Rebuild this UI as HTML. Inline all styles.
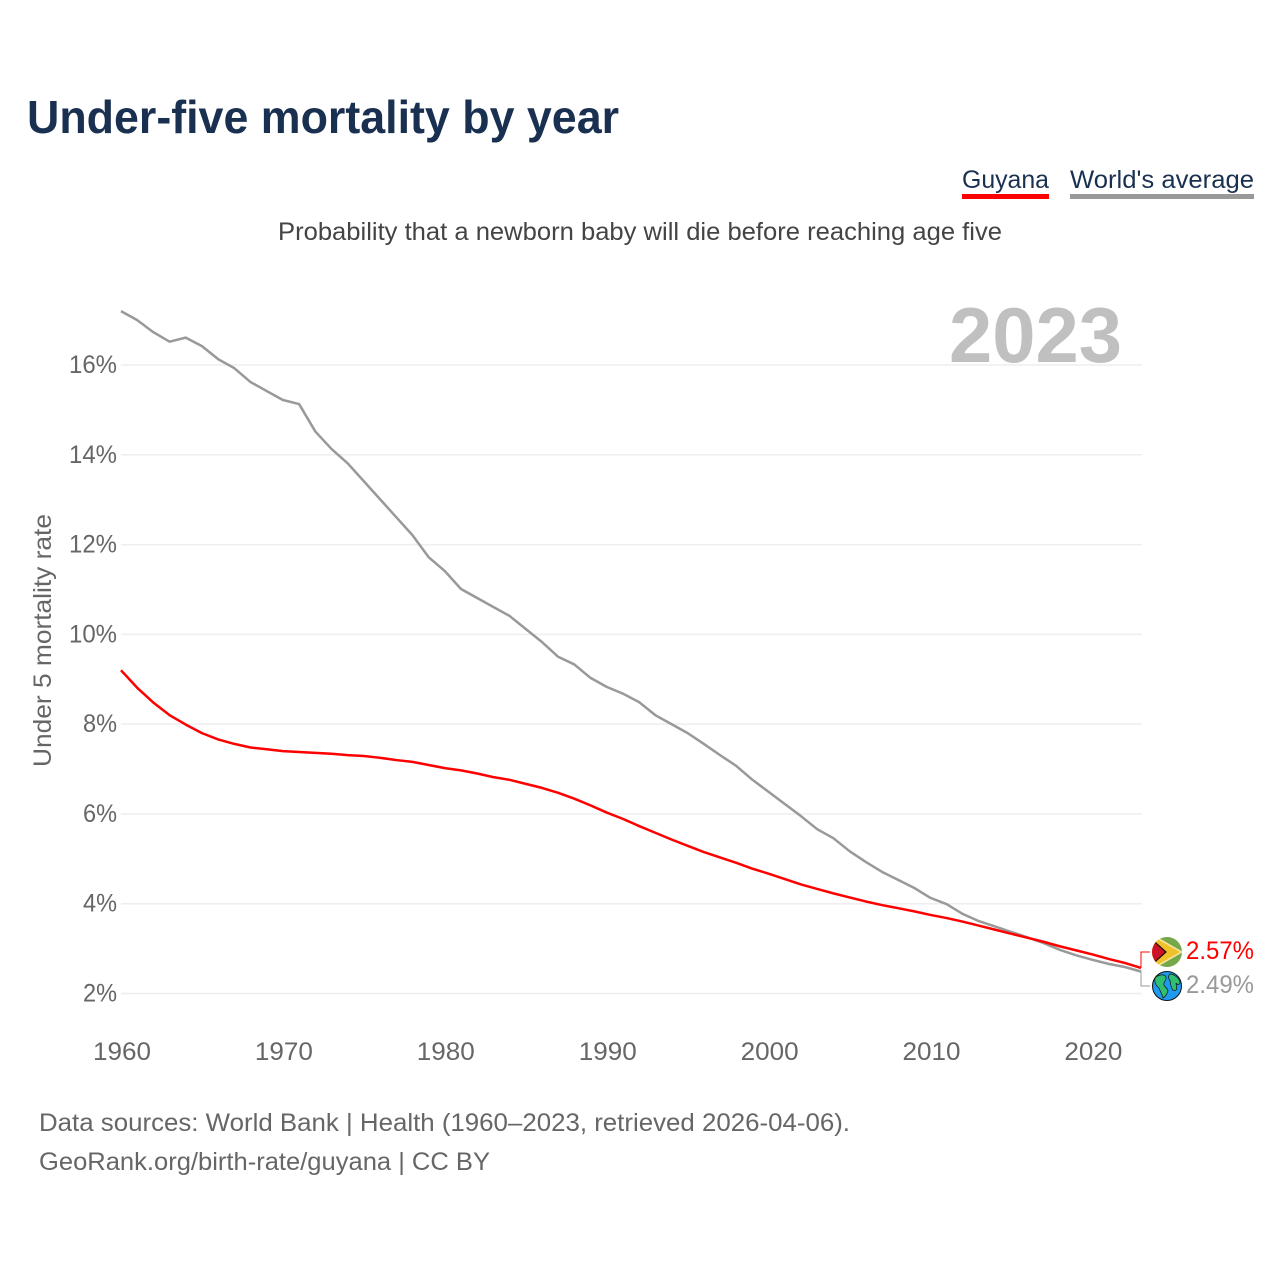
<!DOCTYPE html>
<html lang="en">
<head>
<meta charset="utf-8">
<title>Under-five mortality by year</title>
<style>
  html, body { margin: 0; padding: 0; background: #fff; }
  svg { display: block; font-family: "Liberation Sans", sans-serif; }
</style>
</head>
<body>
<svg id="chart" xmlns="http://www.w3.org/2000/svg" width="1280" height="1280" viewBox="0 0 1280 1280">
  <rect x="0" y="0" width="1280" height="1280" fill="#ffffff"/>
  <text x="27" y="133" font-size="46" font-weight="700" fill="#1a3050" textLength="592" lengthAdjust="spacingAndGlyphs">Under-five mortality by year</text>

  <g>
    <text x="962" y="188" font-size="25" fill="#1a3050" textLength="87" lengthAdjust="spacingAndGlyphs">Guyana</text>
    <rect x="962" y="194" width="87" height="5" fill="#ff0000"/>
  </g>
  <g>
    <text x="1070" y="188" font-size="25" fill="#1a3050" textLength="184" lengthAdjust="spacingAndGlyphs">World's average</text>
    <rect x="1070" y="194" width="184" height="5" fill="#999999"/>
  </g>

  <text x="278" y="240" font-size="25" fill="#444444" textLength="724" lengthAdjust="spacingAndGlyphs">Probability that a newborn baby will die before reaching age five</text>

  <g id="grid"></g>
  <g id="yticks"></g>
  <g id="xticks"></g>

  <text x="949" y="362" font-size="78" font-weight="700" fill="#c0c0c0" textLength="173" lengthAdjust="spacingAndGlyphs">2023</text>

  <text transform="translate(51,767) rotate(-90)" x="0" y="0" font-size="25" fill="#666666" textLength="253" lengthAdjust="spacingAndGlyphs">Under 5 mortality rate</text>

  <g id="series"></g>

  <path d="M1141 968V952H1150" fill="none" stroke="#ff0000" stroke-width="1"/>
  <path d="M1141 971V986H1150" fill="none" stroke="#999999" stroke-width="1"/>

  <g>
    <clipPath id="flag-clip"><circle cx="1167" cy="952" r="15"/></clipPath>
    <g clip-path="url(#flag-clip)">
      <rect x="1152" y="937" width="30" height="30" fill="#74a84b"/>
      <path d="M1152 934L1183 952L1152 970Z" fill="#f5e8a0"/>
      <path d="M1152 936L1180 952L1152 968Z" fill="#f2c029"/>
      <path d="M1148 936L1166 952L1148 968Z" fill="#ce1126" stroke="#111111" stroke-width="1.2"/>
    </g>
  </g>
  <g>
    <circle cx="1167" cy="986" r="14.5" fill="#1e9bf0" stroke="#111111" stroke-width="1"/>
    <path d="M1155 978C1159 974 1165 974 1166 977C1167 980 1163 982 1164 985C1165 988 1168 988 1168 991C1167 994 1165 997 1163 998C1162 994 1160 991 1159 988C1157 986 1154 984 1155 978Z" fill="#2fbf71" stroke="#111111" stroke-width="0.7"/>
    <path d="M1170 974C1174 974 1179 978 1180 982C1180 985 1177 985 1176 983C1176 986 1178 988 1176 990C1173 992 1172 989 1171 986C1170 983 1171 981 1169 979C1168 977 1169 975 1170 974Z" fill="#2fbf71" stroke="#111111" stroke-width="0.7"/>
  </g>

  <text x="1186" y="959" font-size="25" fill="#ff0000" textLength="68" lengthAdjust="spacingAndGlyphs">2.57%</text>
  <text x="1186" y="993" font-size="25" fill="#999999" textLength="68" lengthAdjust="spacingAndGlyphs">2.49%</text>

  <text x="39" y="1131" font-size="25" fill="#666666" textLength="811" lengthAdjust="spacingAndGlyphs">Data sources: World Bank | Health (1960–2023, retrieved 2026-04-06).</text>
  <text x="39" y="1170" font-size="25" fill="#666666" textLength="451" lengthAdjust="spacingAndGlyphs">GeoRank.org/birth-rate/guyana | CC BY</text>
</svg>

<script>
const startYear = 1960;
const endYear = 2023;
const yTickValues = [2, 4, 6, 8, 10, 12, 14, 16];
const yTickLabels = ["2%", "4%", "6%", "8%", "10%", "12%", "14%", "16%"];
const xTickValues = [1960, 1970, 1980, 1990, 2000, 2010, 2020];
const xTickLabels = ["1960", "1970", "1980", "1990", "2000", "2010", "2020"];
const worldValues = [
  17.2, 17.0, 16.73, 16.52, 16.61, 16.42, 16.13, 15.93, 15.62, 15.42,
  15.22, 15.13, 14.52, 14.13, 13.81, 13.41, 13.01, 12.61, 12.21, 11.72,
  11.41, 11.01, 10.81, 10.61, 10.41, 10.12, 9.83, 9.5, 9.33, 9.03,
  8.83, 8.68, 8.49, 8.2, 8.0, 7.8, 7.56, 7.31, 7.07, 6.76,
  6.49, 6.22, 5.95, 5.66, 5.46, 5.17, 4.93, 4.71, 4.53, 4.35,
  4.13, 3.99, 3.77, 3.61, 3.49, 3.37, 3.25, 3.12, 2.97, 2.85,
  2.75, 2.66, 2.59, 2.49
];
const guyanaValues = [
  9.2, 8.81, 8.48, 8.2, 7.99, 7.8, 7.66, 7.56, 7.48, 7.44,
  7.4, 7.38, 7.36, 7.34, 7.31, 7.29, 7.25, 7.2, 7.16, 7.09,
  7.02, 6.97, 6.9, 6.82, 6.76, 6.67, 6.58, 6.47, 6.34, 6.19,
  6.03, 5.89, 5.73, 5.58, 5.43, 5.29, 5.15, 5.03, 4.91, 4.78,
  4.67, 4.55, 4.43, 4.33, 4.23, 4.14, 4.05, 3.97, 3.9, 3.83,
  3.75, 3.68, 3.6, 3.51, 3.42, 3.33, 3.24, 3.15, 3.05, 2.96,
  2.87, 2.77, 2.68, 2.57
];

const SVG_NS = "http://www.w3.org/2000/svg";
function xScale(year) {
  return 121 + (year - startYear) * (1141 - 121) / (endYear - startYear);
}
function yScale(value) {
  return 993.5 - (value - 2) * (993.5 - 365) / 14;
}

const grid = document.getElementById("grid");
const yticks = document.getElementById("yticks");
const xticks = document.getElementById("xticks");
const series = document.getElementById("series");

yTickValues.forEach(function (v, i) {
  const line = document.createElementNS(SVG_NS, "line");
  line.setAttribute("x1", 121);
  line.setAttribute("x2", 1142);
  line.setAttribute("y1", yScale(v));
  line.setAttribute("y2", yScale(v));
  line.setAttribute("stroke", "#eeeeee");
  line.setAttribute("stroke-width", 1.5);
  
  
  grid.appendChild(line);

  const label = document.createElementNS(SVG_NS, "text");
  label.setAttribute("x", 117);
  label.setAttribute("y", yScale(v) + 8);
  label.setAttribute("text-anchor", "end");
  label.setAttribute("font-size", 25);
  label.setAttribute("fill", "#666666");
  label.setAttribute("textLength", yTickLabels[i].length === 3 ? 48 : 34);
  label.setAttribute("lengthAdjust", "spacingAndGlyphs");
  
  
  label.textContent = yTickLabels[i];
  yticks.appendChild(label);
});

xTickValues.forEach(function (year, i) {
  const label = document.createElementNS(SVG_NS, "text");
  label.setAttribute("x", xScale(year) + 1);
  label.setAttribute("y", 1060);
  label.setAttribute("text-anchor", "middle");
  label.setAttribute("font-size", 25);
  label.setAttribute("fill", "#666666");
  label.setAttribute("textLength", 58);
  label.setAttribute("lengthAdjust", "spacingAndGlyphs");
  
  
  label.textContent = xTickLabels[i];
  xticks.appendChild(label);
});

function buildPath(values) {
  return values.map(function (v, i) {
    return (i === 0 ? "M" : "L") + xScale(startYear + i).toFixed(2) + " " + yScale(v).toFixed(2);
  }).join("");
}

const worldLine = document.createElementNS(SVG_NS, "path");
worldLine.setAttribute("d", buildPath(worldValues));
worldLine.setAttribute("fill", "none");
worldLine.setAttribute("stroke", "#999999");
worldLine.setAttribute("stroke-width", 2.5);
worldLine.setAttribute("stroke-linejoin", "round");


series.appendChild(worldLine);

const guyanaLine = document.createElementNS(SVG_NS, "path");
guyanaLine.setAttribute("d", buildPath(guyanaValues));
guyanaLine.setAttribute("fill", "none");
guyanaLine.setAttribute("stroke", "#ff0000");
guyanaLine.setAttribute("stroke-width", 2.5);
guyanaLine.setAttribute("stroke-linejoin", "round");


series.appendChild(guyanaLine);
</script>
</body>
</html>
